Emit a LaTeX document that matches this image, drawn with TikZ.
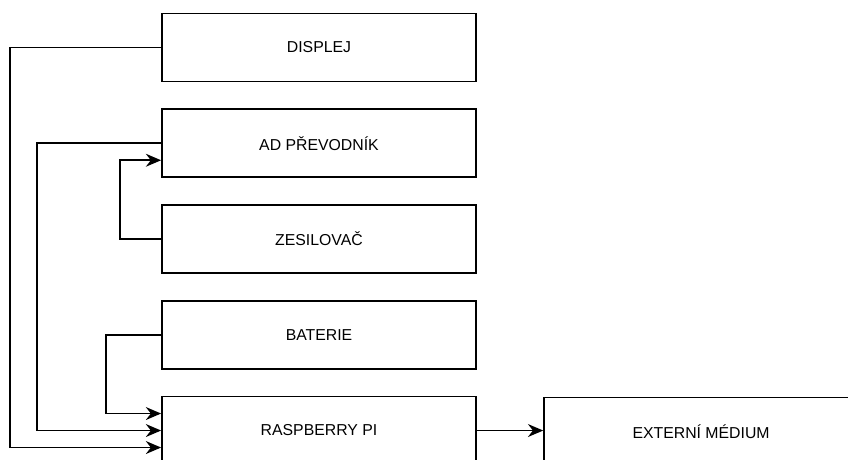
\documentclass[tikz,border=0pt]{standalone}
\usepackage{fontspec}
\setmainfont{Liberation Sans}
\usetikzlibrary{arrows.meta,positioning}

\begin{document}
\begin{tikzpicture}[
  blok/.style={draw, line width=1.5pt, minimum width=9.42cm, minimum height=2.04cm, align=center, font=\fontsize{13.5}{16}\selectfont},
  spoj/.style={line width=1.5pt},
  >={Stealth[length=13pt,width=11pt]}, node distance=0.78cm and 1.99cm
]
  \useasboundingbox (0,0) rectangle (25.44,-13.77);
  \clip (0,0) rectangle (25.44,-13.77);

  \node[blok] (disp) at (9.57,-1.425) {DISPLEJ};
  \node[blok, below=of disp] (adp) {AD PŘEVODNÍK};
  \node[blok, below=of adp] (zes) {ZESILOVAČ};
  \node[blok, below=of zes] (bat) {BATERIE};
  \node[blok, below=of bat] (rpi) {RASPBERRY PI};
  \node[blok, right=of rpi, yshift=-0.03cm] (ext) {EXTERNÍ MÉDIUM};

  \draw[spoj,->] (disp.west) -- ++(-4.53,0) |- ([yshift=-0.51cm]rpi.west);
  \draw[spoj,->] (adp.west) -- ++(-3.72,0) |- (rpi.west);
  \draw[spoj,->] (zes.west) -- ++(-1.23,0) |- ([yshift=-0.51cm]adp.west);
  \draw[spoj,->] (bat.west) -- ++(-1.65,0) |- ([yshift=0.51cm]rpi.west);
  \draw[spoj,->] (rpi) -- (rpi -| ext.west);
\end{tikzpicture}
\end{document}
